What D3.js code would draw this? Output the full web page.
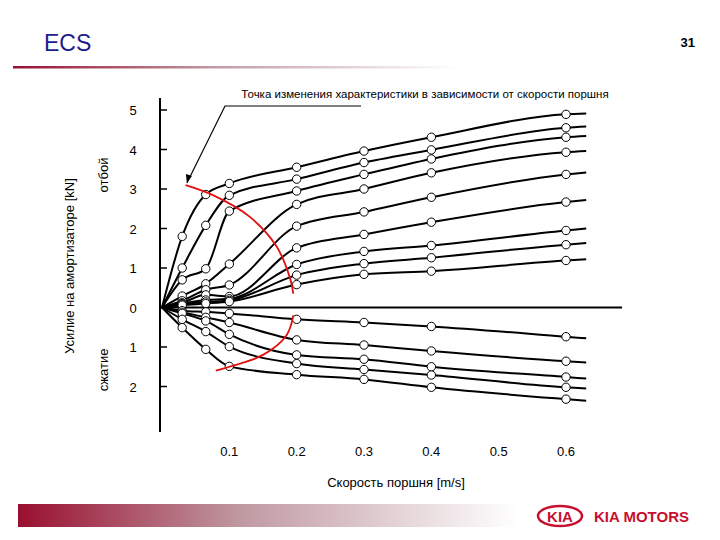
<!DOCTYPE html>
<html><head><meta charset="utf-8">
<script src="https://cdn.jsdelivr.net/npm/d3@7"></script>
<style>body{margin:0;background:#fff}</style></head>
<body><svg id="c" width="720" height="540"></svg>
<script>
const speeds = [0, 0.03, 0.065, 0.1, 0.2, 0.3, 0.4, 0.6, 0.63];
// rebound curves (kN), values at speeds
const rebound = [
  [0, 1.80, 2.86, 3.14, 3.55, 3.96, 4.31, 4.89, 4.91],
  [0, 1.00, 2.08, 2.84, 3.25, 3.67, 3.99, 4.55, 4.58],
  [0, 0.70, 0.98, 2.44, 2.95, 3.37, 3.76, 4.31, 4.34],
  [0, 0.29, 0.60, 1.10, 2.61, 3.00, 3.41, 3.93, 3.96],
  [0, 0.17, 0.45, 0.57, 2.06, 2.42, 2.79, 3.37, 3.42],
  [0, 0.12, 0.32, 0.28, 1.51, 1.85, 2.16, 2.67, 2.72],
  [0, 0.10, 0.19, 0.22, 1.09, 1.42, 1.57, 1.95, 2.00],
  [0, 0.08, 0.14, 0.18, 0.82, 1.11, 1.26, 1.59, 1.63],
  [0, 0.06, 0.10, 0.15, 0.58, 0.84, 0.92, 1.19, 1.22]
];
// compression curves (kN, magnitude)
const compression = [
  [0, 0.08, 0.11, 0.15, 0.30, 0.38, 0.48, 0.74, 0.78],
  [0, 0.12, 0.25, 0.38, 0.82, 0.95, 1.10, 1.36, 1.39],
  [0, 0.15, 0.34, 0.68, 1.20, 1.31, 1.50, 1.76, 1.80],
  [0, 0.30, 0.61, 0.99, 1.42, 1.57, 1.71, 2.02, 2.05],
  [0, 0.51, 1.06, 1.49, 1.70, 1.82, 2.02, 2.32, 2.36]
];
const xTicks = [0.1, 0.2, 0.3, 0.4, 0.5, 0.6];
const yTicks = [5, 4, 3, 2, 1, 0, -1, -2];
const arcUpper = [[0.035,3.1],[0.075,2.85],[0.13,2.3],[0.17,1.55],[0.19,0.75],[0.195,0.35]];
const arcLower = [[0.195,-0.2],[0.185,-0.7],[0.15,-1.2],[0.1,-1.5],[0.08,-1.6]];

const svg = d3.select('#c');
const F = 'Arial, "Liberation Sans", sans-serif';
const x = d3.scaleLinear().domain([0, 0.6]).range([162, 566]);
const y = d3.scaleLinear().domain([-2, 5]).range([386.5, 110]);

// header
svg.append('text').attr('x',44).attr('y',51).attr('font-family',F).attr('font-size',23).attr('fill','#1c1c8e').text('ECS');
svg.append('text').attr('x',695).attr('y',47).attr('text-anchor','end').attr('font-family',F).attr('font-size',13).attr('font-weight','bold').text('31');
const defs = svg.append('defs');
const g1 = defs.append('linearGradient').attr('id','gr');
g1.append('stop').attr('offset','0').attr('stop-color','#9a0f30');
g1.append('stop').attr('offset','0.45').attr('stop-color','#c09aa2');
g1.append('stop').attr('offset','1').attr('stop-color','#ffffff');
svg.append('rect').attr('x',13).attr('y',66).attr('width',445).attr('height',2.5).attr('fill','url(#gr)');
svg.append('rect').attr('x',18).attr('y',504).attr('width',500).attr('height',23).attr('fill','url(#gr)');
svg.append('ellipse').attr('cx',560).attr('cy',516).attr('rx',22).attr('ry',10).attr('fill','none').attr('stroke','#c8102e').attr('stroke-width',2.5);
svg.append('text').attr('x',560).attr('y',522).attr('text-anchor','middle').attr('font-family',F).attr('font-size',15).attr('font-weight','bold').attr('fill','#c8102e').text('KIA');
svg.append('text').attr('x',594).attr('y',522).attr('font-family',F).attr('font-size',15).attr('font-weight','bold').attr('fill','#c8102e').text('KIA MOTORS');

// axes
svg.append('line').attr('x1',160).attr('x2',160).attr('y1',98).attr('y2',432).attr('stroke','#000').attr('stroke-width',2);
svg.append('line').attr('x1',160).attr('x2',622).attr('y1',y(0)).attr('y2',y(0)).attr('stroke','#000').attr('stroke-width',2);
yTicks.forEach(t=>{
  if(t!==0) svg.append('line').attr('x1',160).attr('x2',167).attr('y1',y(t)).attr('y2',y(t)).attr('stroke','#000').attr('stroke-width',1.5);
  svg.append('text').attr('x',133).attr('y',y(t)+5).attr('text-anchor','middle').attr('font-family',F).attr('font-size',13).text(Math.abs(t));
});
xTicks.forEach(t=>{
  svg.append('text').attr('x',x(t)).attr('y',456).attr('text-anchor','middle').attr('font-family',F).attr('font-size',13).text(t);
});
svg.append('text').attr('x',396).attr('y',487).attr('text-anchor','middle').attr('font-family',F).attr('font-size',13).text('Скорость поршня [m/s]');
svg.append('text').attr('transform','translate(74,266) rotate(-90)').attr('text-anchor','middle').attr('font-family',F).attr('font-size',13).text('Усилие на амортизаторе [kN]');
svg.append('text').attr('transform','translate(108,175) rotate(-90)').attr('text-anchor','middle').attr('font-family',F).attr('font-size',13).text('отбой');
svg.append('text').attr('transform','translate(108,370) rotate(-90)').attr('text-anchor','middle').attr('font-family',F).attr('font-size',13).text('сжатие');

// curves
const line = d3.line().x(d=>x(d[0])).y(d=>y(d[1])).curve(d3.curveMonotoneX);
const all = rebound.map(c=>c.map((v,i)=>[speeds[i],v])).concat(compression.map(c=>c.map((v,i)=>[speeds[i],-v])));
all.forEach(pts=>{
  svg.append('path').attr('d',line(pts)).attr('fill','none').attr('stroke','#000').attr('stroke-width',2);
});
all.forEach(pts=>{
  pts.slice(1,8).forEach(p=>{
    svg.append('circle').attr('cx',x(p[0])).attr('cy',y(p[1])).attr('r',4.2).attr('fill','#fff').attr('stroke','#000').attr('stroke-width',1);
  });
});

// red arc
const arcLine = d3.line().x(d=>x(d[0])).y(d=>y(d[1])).curve(d3.curveCatmullRom);
[arcUpper, arcLower].forEach(a=>svg.append('path').attr('d',arcLine(a)).attr('fill','none').attr('stroke','#e01010').attr('stroke-width',1.8));

// annotation
svg.append('text').attr('x',425).attr('y',98).attr('text-anchor','middle').attr('font-family',F).attr('font-size',11.5).text('Точка изменения характеристики в зависимости от скорости поршня');
svg.append('path').attr('d',`M361,106 L225,106 L${x(0.037)},${y(3.15)}`).attr('fill','none').attr('stroke','#000').attr('stroke-width',1.2);
svg.append('path').attr('d',`M${x(0.037)},${y(3.15)} l-1,-9 l6,2 z`).attr('fill','#000');
</script></body></html>
